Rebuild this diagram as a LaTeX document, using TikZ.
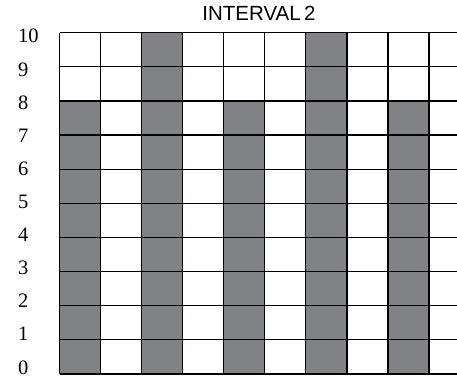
\documentclass[tikz,border=0pt]{standalone}
\usepackage{fontspec}
\setmainfont{Liberation Serif}
\newfontfamily\titlefont{Liberation Sans}
\definecolor{bargray}{HTML}{808285}

\begin{document}
\begin{tikzpicture}[x=1pt,y=1pt,
  gridline/.style={line width=1.2pt},
  ylabel/.style={anchor=base west,inner sep=0pt,font=\fontsize{20.5}{24}\selectfont}]
\useasboundingbox (0,0) rectangle (457,377);
\def\cw{41.06} \def\ch{34.13}
\node[anchor=base,inner sep=0pt,font=\titlefont\fontsize{20.5}{24}\selectfont] (title) at (259,356) {INTERVAL\,2};
\begin{scope}[shift={(59.5,3)}]
\foreach \c/\h in {0/8,2/10,4/8,6/10,8/8} {
\fill[bargray] (\c*\cw,0) rectangle ({(\c+1)*\cw},\h*\ch);
}
\foreach \r in {0,...,10} \draw[gridline] (0,\r*\ch) -- (397.5,\r*\ch);
\foreach \c in {0,...,9} \draw[gridline] (\c*\cw,0) -- (\c*\cw,10*\ch);
\end{scope}
\foreach \n in {0,...,10}
  \node[ylabel] (y\n) at (18,{3+33.1*\n}) {\n};
\end{tikzpicture}
\end{document}
